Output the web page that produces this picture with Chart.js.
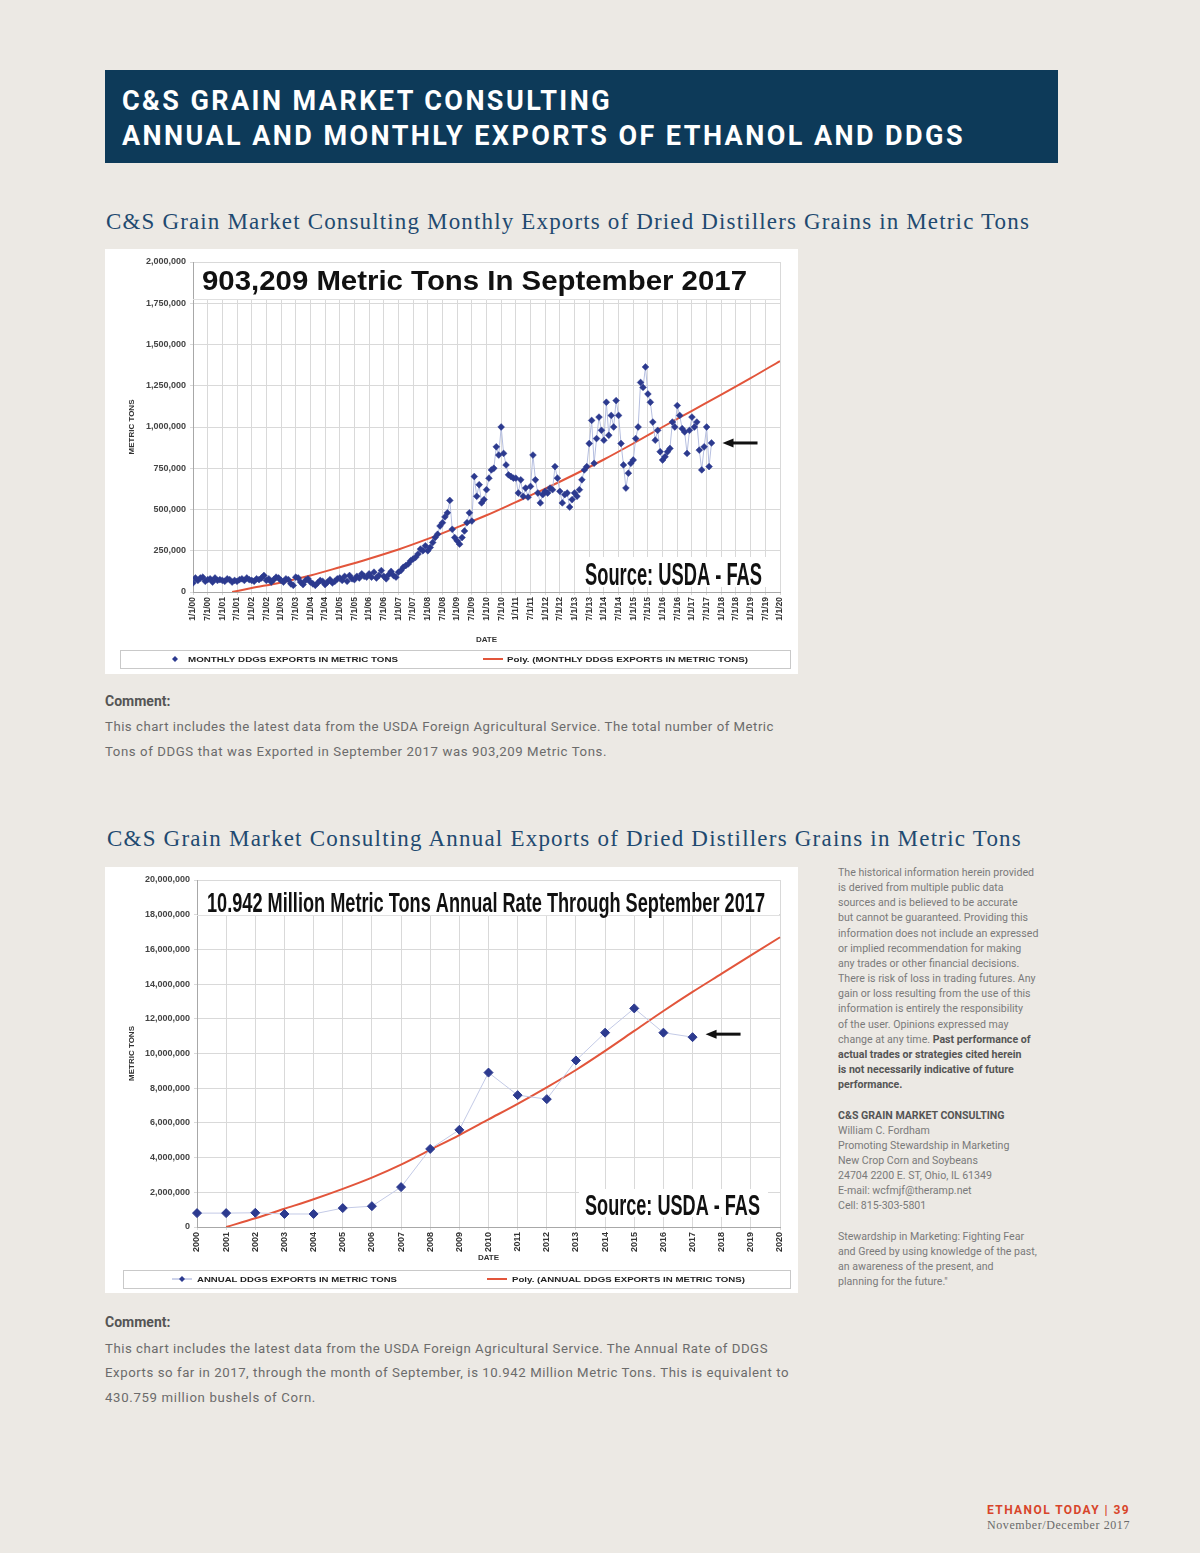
<!DOCTYPE html>
<html>
<head>
<meta charset="utf-8">
<script src="https://cdn.jsdelivr.net/npm/chart.js@4.4.1/dist/chart.umd.min.js"></script>
<style>
  body { margin: 0; width: 1200px; height: 1553px; background: #ece9e4; position: relative; overflow: hidden; font-family: Roboto, "Liberation Sans", sans-serif; }
  .abs { position: absolute; white-space: nowrap; }
  .cabecera { position: absolute; left: 105px; top: 70px; width: 953px; height: 93px; background: #0d3a59; }
  .cabecera div { position: absolute; left: 17px; color: #fff; font-weight: 700; font-size: 27px; line-height: 27px; white-space: nowrap; }
  .titulo { font-family: "Liberation Serif", serif; font-size: 23px; line-height: 24px; color: #1f4a70; }
  .caja { position: absolute; left: 105px; background: #fff; }
  .comentario { font-size: 13.2px; line-height: 25px; color: #6b6b6b; }
  .comentario b { color: #555; font-size: 14px; }
  .lateral { left: 838px; top: 865px; font-size: 10.6px; line-height: 15.15px; color: #7a7a7a; }
  .lateral b { color: #555; }
</style>
</head>
<body>

<div class="cabecera">
  <div id="cab1" data-ancho="490" style="top:18px">C&amp;S GRAIN MARKET CONSULTING</div>
  <div id="cab2" data-ancho="843" style="top:52.5px">ANNUAL AND MONTHLY EXPORTS OF ETHANOL AND DDGS</div>
</div>

<div class="abs titulo" data-ancho="924" style="left:106px; top:210px">C&amp;S Grain Market Consulting Monthly Exports of Dried Distillers Grains in Metric Tons</div>
<div class="caja" style="top:249px; width:693px; height:425px"><canvas id="grafico-mensual" width="693" height="425"></canvas></div>

<div class="abs comentario" style="left:105px; top:689px"><b>Comment:</b></div>
<div class="abs comentario" data-ancho="669" style="left:105px; top:713.5px">This chart includes the latest data from the USDA Foreign Agricultural Service. The total number of Metric</div>
<div class="abs comentario" data-ancho="502" style="left:105px; top:738.5px">Tons of DDGS that was Exported in September 2017 was 903,209 Metric Tons.</div>

<div class="abs titulo" data-ancho="915" style="left:107px; top:827px">C&amp;S Grain Market Consulting Annual Exports of Dried Distillers Grains in Metric Tons</div>
<div class="caja" style="top:867px; width:693px; height:426px"><canvas id="grafico-anual" width="693" height="426"></canvas></div>

<div class="abs lateral">
The historical information herein provided<br>
is derived from multiple public data<br>
sources and is believed to be accurate<br>
but cannot be guaranteed. Providing this<br>
information does not include an expressed<br>
or implied recommendation for making<br>
any trades or other financial decisions.<br>
There is risk of loss in trading futures. Any<br>
gain or loss resulting from the use of this<br>
information is entirely the responsibility<br>
of the user. Opinions expressed may<br>
change at any time. <b>Past performance of</b><br>
<b>actual trades or strategies cited herein</b><br>
<b>is not necessarily indicative of future</b><br>
<b>performance.</b><br>
<br>
<b>C&amp;S GRAIN MARKET CONSULTING</b><br>
William C. Fordham<br>
Promoting Stewardship in Marketing<br>
New Crop Corn and Soybeans<br>
24704 2200 E. ST, Ohio, IL 61349<br>
E-mail: wcfmjf@theramp.net<br>
Cell: 815-303-5801<br>
<br>
Stewardship in Marketing: Fighting Fear<br>
and Greed by using knowledge of the past,<br>
an awareness of the present, and<br>
planning for the future."
</div>

<div class="abs comentario" style="left:105px; top:1310px"><b>Comment:</b></div>
<div class="abs comentario" data-ancho="663" style="left:105px; top:1335.5px">This chart includes the latest data from the USDA Foreign Agricultural Service. The Annual Rate of DDGS</div>
<div class="abs comentario" data-ancho="684" style="left:105px; top:1360.3px">Exports so far in 2017, through the month of September, is 10.942 Million Metric Tons. This is equivalent to</div>
<div class="abs comentario" data-ancho="211" style="left:105px; top:1385px">430.759 million bushels of Corn.</div>

<div class="abs" data-ancho="143" style="right:70px; top:1503px; font-size:12px; line-height:14px; font-weight:700; color:#d8452a">ETHANOL TODAY | 39</div>
<div class="abs" data-ancho="143" style="right:70px; top:1518px; font-size:12px; line-height:14px; font-family:'Liberation Serif', serif; color:#6a6a6a">November/December 2017</div>

<script>
// ---- datos mensuales (toneladas métricas), ene 2000 - sep 2017
const exp2000 = [55000, 85000, 70000, 85000, 90000, 65000, 75000, 80000, 60000, 85000, 70000, 75000];
const exp2001 = [70000, 65000, 80000, 75000, 60000, 70000, 65000, 75000, 80000, 70000, 85000, 75000];
const exp2002 = [70000, 65000, 80000, 75000, 85000, 100000, 70000, 80000, 60000, 75000, 90000, 85000];
const exp2003 = [70000, 60000, 80000, 75000, 50000, 40000, 90000, 85000, 60000, 45000, 70000, 80000];
const exp2004 = [60000, 50000, 40000, 55000, 70000, 65000, 45000, 60000, 75000, 55000, 65000, 80000];
const exp2005 = [85000, 70000, 95000, 65000, 100000, 80000, 75000, 95000, 85000, 110000, 95000, 90000];
const exp2006 = [110000, 90000, 120000, 85000, 100000, 130000, 95000, 80000, 105000, 125000, 100000, 90000];
const exp2007 = [120000, 130000, 150000, 160000, 170000, 190000, 200000, 210000, 230000, 260000, 250000, 280000];
const exp2008 = [250000, 270000, 300000, 330000, 350000, 400000, 420000, 455000, 480000, 555000, 380000, 330000];
const exp2009 = [310000, 290000, 330000, 370000, 420000, 480000, 430000, 700000, 580000, 650000, 540000, 560000];
const exp2010 = [620000, 690000, 740000, 750000, 880000, 830000, 1000000, 840000, 770000, 710000, 700000, 690000];
const exp2011 = [690000, 600000, 680000, 580000, 630000, 575000, 640000, 830000, 680000, 600000, 540000, 590000];
const exp2012 = [610000, 600000, 630000, 620000, 760000, 690000, 610000, 540000, 590000, 600000, 515000, 560000];
const exp2013 = [600000, 580000, 620000, 680000, 740000, 760000, 900000, 1040000, 780000, 930000, 1060000, 980000];
const exp2014 = [920000, 1150000, 950000, 1070000, 1000000, 1160000, 1070000, 900000, 770000, 630000, 720000, 780000];
const exp2015 = [800000, 930000, 1000000, 1270000, 1240000, 1364000, 1200000, 1150000, 1030000, 920000, 980000, 850000];
const exp2016 = [800000, 820000, 850000, 870000, 1030000, 1000000, 1130000, 1070000, 990000, 970000, 840000, 980000];
const exp2017 = [1060000, 1000000, 1030000, 860000, 740000, 880000, 1000000, 760000, 903209];

// etiquetas del eje x (cada 6 meses)
const etiquetasMes = ['1/1/00','7/1/00','1/1/01','7/1/01','1/1/02','7/1/02','1/1/03','7/1/03','1/1/04','7/1/04',
  '1/1/05','7/1/05','1/1/06','7/1/06','1/1/07','7/1/07','1/1/08','7/1/08','1/1/09','7/1/09',
  '1/1/10','7/1/10','1/1/11','7/1/11','1/1/12','7/1/12','1/1/13','7/1/13','1/1/14','7/1/14',
  '1/1/15','7/1/15','1/1/16','7/1/16','1/1/17','7/1/17','1/1/18','7/1/18','1/1/19','7/1/19','1/1/20'];

// tendencia polinómica (mes desde ene 2000)
const mesesTendencia = [16, 24, 36, 48, 60, 72, 84, 96, 108, 120, 132, 144, 156, 168, 180, 192, 204, 216, 228, 240];
const valoresTendencia = [0, 24000, 58000, 100000, 150000, 202000, 258000, 322000, 392000, 465000, 545000, 626000, 712000, 803000, 900000, 1000000, 1098000, 1196000, 1296000, 1400000];

// ---- datos anuales
const anios = ['2000','2001','2002','2003','2004','2005','2006','2007','2008','2009','2010',
  '2011','2012','2013','2014','2015','2016','2017','2018','2019','2020'];
const exportacionesAnuales = [800000, 800000, 820000, 750000, 750000, 1090000, 1200000, 2300000, 4500000, 5600000,
  8900000, 7600000, 7370000, 9600000, 11200000, 12600000, 11200000, 10942000];
const tendenciaAnual = [null, 0, 500000, 1050000, 1600000, 2200000, 2850000, 3600000, 4450000, 5300000, 6200000,
  7100000, 8050000, 9050000, 10150000, 11300000, 12450000, 13550000, 14600000, 15650000, 16700000];

const AZUL = '#2c3a8f';
const ROJO = '#e2553b';

const mensuales = [...exp2000, ...exp2001, ...exp2002, ...exp2003, ...exp2004, ...exp2005, ...exp2006,
  ...exp2007, ...exp2008, ...exp2009, ...exp2010, ...exp2011, ...exp2012, ...exp2013, ...exp2014,
  ...exp2015, ...exp2016, ...exp2017];

// texto estirado/comprimido a un ancho dado (fuentes condensadas del original)
function textoAjustado(ctx, texto, x, y, ancho, fuente, color) {
  ctx.save();
  ctx.font = fuente;
  ctx.fillStyle = color || '#111';
  ctx.textBaseline = 'alphabetic';
  ctx.textAlign = 'left';
  const w = ctx.measureText(texto).width;
  ctx.translate(x, y);
  ctx.scale(ancho / w, 1);
  ctx.fillText(texto, 0, 0);
  ctx.restore();
}

function flecha(ctx, x1, x2, y) {
  ctx.save();
  ctx.strokeStyle = '#111';
  ctx.fillStyle = '#111';
  ctx.lineWidth = 3;
  ctx.beginPath();
  ctx.moveTo(x1 + 8, y);
  ctx.lineTo(x2, y);
  ctx.stroke();
  ctx.beginPath();
  ctx.moveTo(x1, y);
  ctx.lineTo(x1 + 11, y - 4.5);
  ctx.lineTo(x1 + 11, y + 4.5);
  ctx.closePath();
  ctx.fill();
  ctx.restore();
}

function diamante(ctx, x, y, r) {
  ctx.beginPath();
  ctx.moveTo(x, y - r);
  ctx.lineTo(x + r, y);
  ctx.lineTo(x, y + r);
  ctx.lineTo(x - r, y);
  ctx.closePath();
  ctx.fill();
}

function decoracion(o) {
  return {
    id: 'decoracion',
    beforeDatasetsDraw(chart) {
      const { ctx, chartArea: a } = chart;
      ctx.save();
      ctx.fillStyle = '#fff';
      ctx.fillRect(a.left + 1, a.top + 1, a.right - a.left - 2, o.altoTitulo);
      ctx.strokeStyle = '#e0e0e0';
      ctx.beginPath();
      ctx.moveTo(a.left, a.top + o.altoTitulo + 0.5);
      ctx.lineTo(a.right, a.top + o.altoTitulo + 0.5);
      ctx.stroke();
      ctx.fillRect(o.fuenteX - 6, o.fuenteY - o.fuenteAlto - 4, o.fuenteAncho + 14, o.fuenteAlto + 6);
      ctx.restore();
      textoAjustado(ctx, o.titulo, o.tituloX, o.tituloY, o.tituloAncho, o.tituloFuente);
      textoAjustado(ctx, 'Source: USDA - FAS', o.fuenteX, o.fuenteY, o.fuenteAncho, o.fuenteFuente);
    },
    afterDraw(chart) {
      const ctx = chart.ctx;
      const puntos = chart.getDatasetMeta(0).data;
      const ult = puntos[puntos.length - 1];
      flecha(ctx, ult.x + o.flechaDx, ult.x + o.flechaDx + 35, ult.y - o.flechaDy);

      // leyenda
      const L = o.leyenda;
      ctx.save();
      ctx.fillStyle = '#fff';
      ctx.strokeStyle = '#c9c9c9';
      ctx.fillRect(L.x, L.y, L.w, L.h);
      ctx.strokeRect(L.x + 0.5, L.y + 0.5, L.w, L.h);
      const yc = L.y + L.h / 2;
      if (L.lineaAzul) {
        ctx.strokeStyle = '#9aa6d6';
        ctx.lineWidth = 1;
        ctx.beginPath();
        ctx.moveTo(L.marca - 10, yc);
        ctx.lineTo(L.marca + 10, yc);
        ctx.stroke();
      }
      ctx.fillStyle = AZUL;
      diamante(ctx, L.marca, yc, 3);
      ctx.strokeStyle = ROJO;
      ctx.lineWidth = 2;
      ctx.beginPath();
      ctx.moveTo(L.rojo, yc);
      ctx.lineTo(L.rojo + 20, yc);
      ctx.stroke();
      ctx.restore();
      textoAjustado(ctx, L.texto1, L.t1x, yc + 3, L.t1w, 'bold 8px "Liberation Sans"', '#222');
      textoAjustado(ctx, L.texto2, L.t2x, yc + 3, L.t2w, 'bold 8px "Liberation Sans"', '#222');
    },
  };
}

const fuenteTick = { family: 'Liberation Sans', size: 9, weight: 'bold' };
const fuenteTitulo = { family: 'Liberation Sans', size: 8, weight: 'bold' };

// ---- gráfico mensual
new Chart(document.getElementById('grafico-mensual'), {
  type: 'line',
  data: {
    datasets: [
      {
        label: 'MONTHLY DDGS EXPORTS IN METRIC TONS',
        data: mensuales.map((v, i) => ({ x: i, y: v })),
        borderColor: '#b6bfe0',
        borderWidth: 1,
        pointStyle: 'rectRot',
        pointRadius: 3.4,
        pointBackgroundColor: AZUL,
        pointBorderColor: AZUL,
        pointBorderWidth: 0.5,
        tension: 0,
      },
      {
        label: 'Poly. (MONTHLY DDGS EXPORTS IN METRIC TONS)',
        data: mesesTendencia.map((m, i) => ({ x: m, y: valoresTendencia[i] })),
        borderColor: ROJO,
        borderWidth: 2,
        pointRadius: 0,
        cubicInterpolationMode: 'monotone',
      },
    ],
  },
  options: {
    responsive: false,
    animation: false,
    devicePixelRatio: 1,
    layout: { padding: { top: 13, right: 18, bottom: 25, left: 18 } },
    plugins: { legend: { display: false }, tooltip: { enabled: false } },
    scales: {
      x: {
        type: 'linear',
        min: 0,
        max: 240,
        afterFit: (s) => { s.height = 57; },
        ticks: {
          stepSize: 6,
          autoSkip: false,
          minRotation: 90,
          maxRotation: 90,
          font: { ...fuenteTick, size: 8.5 },
          color: '#333',
          padding: 2,
          callback: (v) => etiquetasMes[v / 6] ?? '',
        },
        grid: { color: '#d9d9d9', tickLength: 3 },
        border: { color: '#a8a8a8' },
        title: { display: true, text: 'DATE', font: fuenteTitulo, color: '#333', padding: { top: 4, bottom: 4 } },
      },
      y: {
        min: 0,
        max: 2000000,
        afterFit: (s) => { s.width = 70; },
        ticks: {
          stepSize: 250000,
          font: fuenteTick,
          color: '#444',
          padding: 4,
          callback: (v) => v.toLocaleString('en-US'),
        },
        grid: { color: '#d9d9d9', tickLength: 3 },
        border: { color: '#a8a8a8' },
        title: { display: true, text: 'METRIC TONS', font: fuenteTitulo, color: '#333', padding: { top: 4, bottom: 4 } },
      },
    },
  },
  plugins: [decoracion({
    titulo: '903,209 Metric Tons In September 2017',
    tituloX: 97, tituloY: 41, tituloAncho: 545, tituloFuente: 'bold 27px "Liberation Sans"',
    altoTitulo: 37,
    fuenteX: 480, fuenteY: 336, fuenteAncho: 177, fuenteAlto: 24, fuenteFuente: 'bold 31px "Liberation Sans Narrow", "Liberation Sans"',
    flechaDx: 11, flechaDy: 0,
    leyenda: {
      x: 15, y: 401, w: 670, h: 18, marca: 70, lineaAzul: false, rojo: 378,
      texto1: 'MONTHLY DDGS EXPORTS IN METRIC TONS', t1x: 83, t1w: 210,
      texto2: 'Poly. (MONTHLY DDGS EXPORTS IN METRIC TONS)', t2x: 402, t2w: 241,
    },
  })],
});

// ---- gráfico anual
new Chart(document.getElementById('grafico-anual'), {
  type: 'line',
  data: {
    labels: anios,
    datasets: [
      {
        label: 'ANNUAL DDGS EXPORTS IN METRIC TONS',
        data: exportacionesAnuales,
        borderColor: '#c3cae6',
        borderWidth: 1,
        pointStyle: 'rectRot',
        pointRadius: 4.5,
        pointBackgroundColor: AZUL,
        pointBorderColor: AZUL,
        tension: 0,
      },
      {
        label: 'Poly. (ANNUAL DDGS EXPORTS IN METRIC TONS)',
        data: tendenciaAnual,
        borderColor: ROJO,
        borderWidth: 2,
        pointRadius: 0,
        cubicInterpolationMode: 'monotone',
      },
    ],
  },
  options: {
    responsive: false,
    animation: false,
    devicePixelRatio: 1,
    layout: { padding: { top: 13, right: 18, bottom: 26, left: 18 } },
    plugins: { legend: { display: false }, tooltip: { enabled: false } },
    scales: {
      x: {
        offset: false,
        afterFit: (s) => { s.height = 40; },
        ticks: { autoSkip: false, minRotation: 90, maxRotation: 90, font: fuenteTick, color: '#333', padding: 2 },
        grid: { color: '#d9d9d9', tickLength: 3 },
        border: { color: '#a8a8a8' },
        title: { display: true, text: 'DATE', font: fuenteTitulo, color: '#333', padding: { top: 2, bottom: 4 } },
      },
      y: {
        min: 0,
        max: 20000000,
        afterFit: (s) => { s.width = 74; },
        ticks: {
          stepSize: 2000000,
          font: fuenteTick,
          color: '#444',
          padding: 4,
          callback: (v) => v.toLocaleString('en-US'),
        },
        grid: { color: '#d9d9d9', tickLength: 3 },
        border: { color: '#a8a8a8' },
        title: { display: true, text: 'METRIC TONS', font: fuenteTitulo, color: '#333', padding: { top: 4, bottom: 4 } },
      },
    },
  },
  plugins: [decoracion({
    titulo: '10.942 Million Metric Tons Annual Rate Through September 2017',
    tituloX: 102, tituloY: 45, tituloAncho: 558, tituloFuente: 'bold 28px "Liberation Sans Narrow", "Liberation Sans"',
    altoTitulo: 35,
    fuenteX: 480, fuenteY: 348, fuenteAncho: 175, fuenteAlto: 22, fuenteFuente: 'bold 29px "Liberation Sans Narrow", "Liberation Sans"',
    flechaDx: 13, flechaDy: 3,
    leyenda: {
      x: 18, y: 403, w: 667, h: 18, marca: 77, lineaAzul: true, rojo: 382,
      texto1: 'ANNUAL DDGS EXPORTS IN METRIC TONS', t1x: 92, t1w: 200,
      texto2: 'Poly. (ANNUAL DDGS EXPORTS IN METRIC TONS)', t2x: 407, t2w: 233,
    },
  })],
});

// ajusta el espaciado de letras para igualar el ancho del original
document.querySelectorAll('[data-ancho]').forEach(($el) => {
  const objetivo = parseFloat($el.dataset.ancho);
  const actual = $el.getBoundingClientRect().width;
  const n = $el.textContent.length;
  const base = parseFloat(getComputedStyle($el).letterSpacing) || 0;
  $el.style.letterSpacing = (base + (objetivo - actual) / n) + 'px';
});
</script>
</body>
</html>
